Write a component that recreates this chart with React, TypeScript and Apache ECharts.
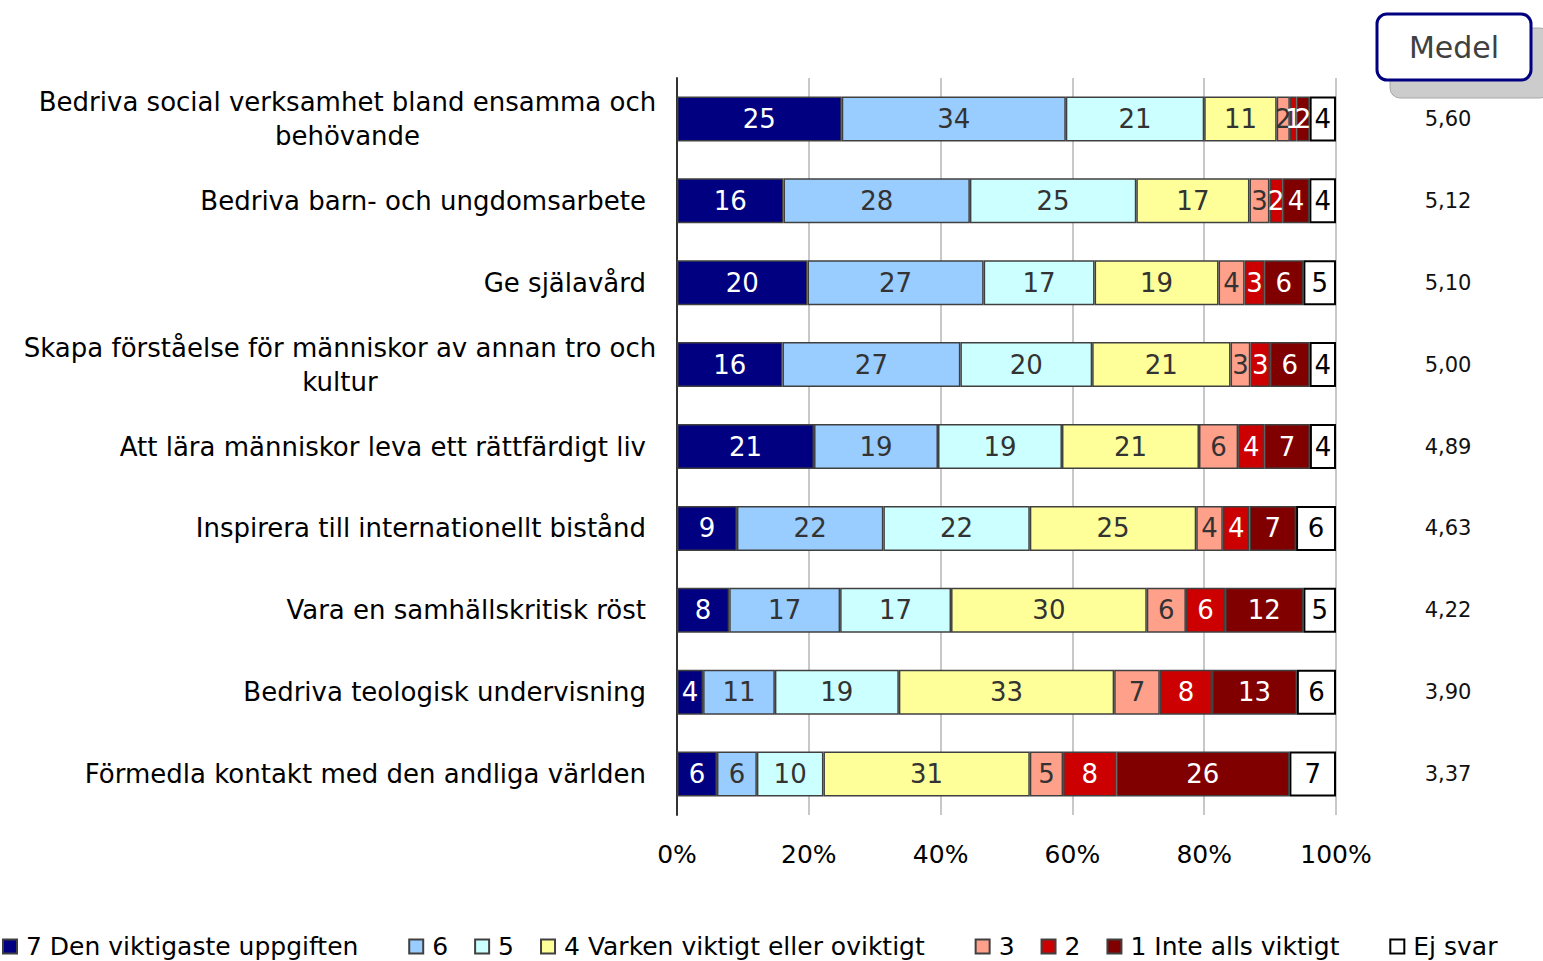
import React, { useEffect, useRef } from 'react';
import * as echarts from 'echarts';

const categories = [
  'Bedriva social verksamhet bland ensamma och\nbehövande',
  'Bedriva barn- och ungdomsarbete',
  'Ge själavård',
  'Skapa förståelse för människor av annan tro och\nkultur',
  'Att lära människor leva ett rättfärdigt liv',
  'Inspirera till internationellt bistånd',
  'Vara en samhällskritisk röst',
  'Bedriva teologisk undervisning',
  'Förmedla kontakt med den andliga världen',
];
const medel = ['5,60', '5,12', '5,10', '5,00', '4,89', '4,63', '4,22', '3,90', '3,37'];
const seriesNames = [
  '7 Den viktigaste uppgiften',
  '6',
  '5',
  '4 Varken viktigt eller oviktigt',
  '3',
  '2',
  '1 Inte alls viktigt',
  'Ej svar',
];
const s7 = [25, 16, 20, 16, 21, 9, 8, 4, 6];
const s6 = [34, 28, 27, 27, 19, 22, 17, 11, 6];
const s5 = [21, 25, 17, 20, 19, 22, 17, 19, 10];
const s4 = [11, 17, 19, 21, 21, 25, 30, 33, 31];
const s3 = [2, 3, 4, 3, 6, 4, 6, 7, 5];
const s2 = [1, 2, 3, 3, 4, 4, 6, 8, 8];
const s1 = [2, 4, 6, 6, 7, 7, 12, 13, 26];
const sEj = [4, 4, 5, 4, 4, 6, 5, 6, 7];
const xTicks = [0, 20, 40, 60, 80, 100];

const seriesValues = [s7, s6, s5, s4, s3, s2, s1, sEj];
const fills = ['#000080', '#99ccff', '#ccffff', '#ffff99', '#ffa08a', '#cc0000', '#800000', '#ffffff'];
const labelColors = ['#ffffff', '#333333', '#333333', '#333333', '#333333', '#ffffff', '#ffffff', '#000000'];

const FONT = '"DejaVu Sans", Verdana, sans-serif';

export default function App() {
  const ref = useRef<HTMLDivElement>(null);

  useEffect(() => {
    if (!ref.current) return;
    const chart = echarts.init(ref.current, undefined, { renderer: 'svg' });

    const rowSums = categories.map((_, i) => seriesValues.reduce((a, s) => a + s[i], 0));

    const ctx = document.createElement('canvas').getContext('2d')!;
    ctx.font = `26px ${FONT}`;
    const rich: Record<string, any> = {};
    categories.forEach((c, i) => {
      const lines = c.split('\n');
      if (lines.length > 1) {
        const w = Math.ceil(ctx.measureText(lines[0]).width) + 1;
        rich['c' + i] = { width: w, align: 'center', fontSize: 26, fontFamily: FONT, color: '#000', lineHeight: 34 };
      } else {
        rich['c' + i] = { padding: [0, 11, 0, 0], fontSize: 26, fontFamily: FONT, color: '#000', lineHeight: 34 };
      }
    });

    const option: any = {
      animation: false,
      backgroundColor: '#ffffff',
      grid: { left: 677, right: 207, top: 78, bottom: 146, containLabel: false },
      legend: {
        left: 2,
        top: 934,
        padding: 0,
        itemWidth: 14,
        itemHeight: 14,
        itemGap: 26,
        icon: 'rect',
        data: seriesNames,
        formatter: (name: string) => (name.length > 3 ? name + '\u00a0\u00a0\u00a0' : name),
        textStyle: { fontSize: 25, fontFamily: FONT, color: '#000', padding: [0, 0, 0, 4] },
      },
      xAxis: {
        type: 'value',
        min: 0,
        max: 100,
        interval: 20,
        axisLine: { show: false },
        axisTick: { show: false },
        splitLine: { show: true, lineStyle: { color: '#c8c8c8', width: 2 } },
        axisLabel: {
          margin: 27,
          fontSize: 25,
          fontFamily: FONT,
          color: '#000',
          formatter: (v: number) => (xTicks.includes(v) ? v + '%' : ''),
        },
      },
      yAxis: [
        {
          type: 'category',
          data: categories,
          inverse: true,
          axisLine: { show: true, lineStyle: { color: '#333333', width: 2 } },
          axisTick: { show: false },
          axisLabel: {
            margin: 20,
            interval: 0,
            formatter: (v: string, idx: number) =>
              v
                .split('\n')
                .map((l) => `{c${idx}|${l}}`)
                .join('\n'),
            rich,
          },
        },
        {
          type: 'category',
          data: medel,
          inverse: true,
          position: 'right',
          axisLine: { show: false },
          axisTick: { show: false },
          axisLabel: {
            margin: 112,
            align: 'center',
            interval: 0,
            fontSize: 21,
            fontFamily: FONT,
            color: '#111',
          },
        },
      ],
      series: seriesValues.map((vals, si) => ({
        name: seriesNames[si],
        type: 'bar',
        stack: 'total',
        barWidth: 45,
        yAxisIndex: 0,
        data: vals.map((v, i) => (v / rowSums[i]) * 100),
        itemStyle: {
          color: fills[si],
          borderColor: si === 7 ? '#000000' : '#404040',
          borderWidth: si === 7 ? 2 : 1.5,
        },
        label: {
          show: true,
          position: 'inside',
          fontSize: 26,
          fontFamily: FONT,
          color: labelColors[si],
          formatter: (p: any) => String(vals[p.dataIndex]),
        },
      })),
      graphic: [
        {
          type: 'rect',
          shape: { x: 1390, y: 28, width: 160, height: 70, r: 10 },
          style: { fill: '#cccccc', stroke: '#a8a8a8', lineWidth: 1 },
        },
        {
          type: 'rect',
          shape: { x: 1377, y: 14, width: 154, height: 66, r: 10 },
          style: { fill: '#ffffff', stroke: '#000080', lineWidth: 3 },
        },
        {
          type: 'text',
          x: 1454,
          y: 47,
          style: {
            text: 'Medel',
            fontSize: 30,
            fontFamily: FONT,
            fill: '#404040',
            align: 'center',
            verticalAlign: 'middle',
          },
        },
      ],
    };

    chart.setOption(option);
    return () => chart.dispose();
  }, []);

  return (
    <div
      ref={ref}
      style={{ position: 'fixed', left: 0, top: 0, width: 1543, height: 961, background: '#fff' }}
    />
  );
}
